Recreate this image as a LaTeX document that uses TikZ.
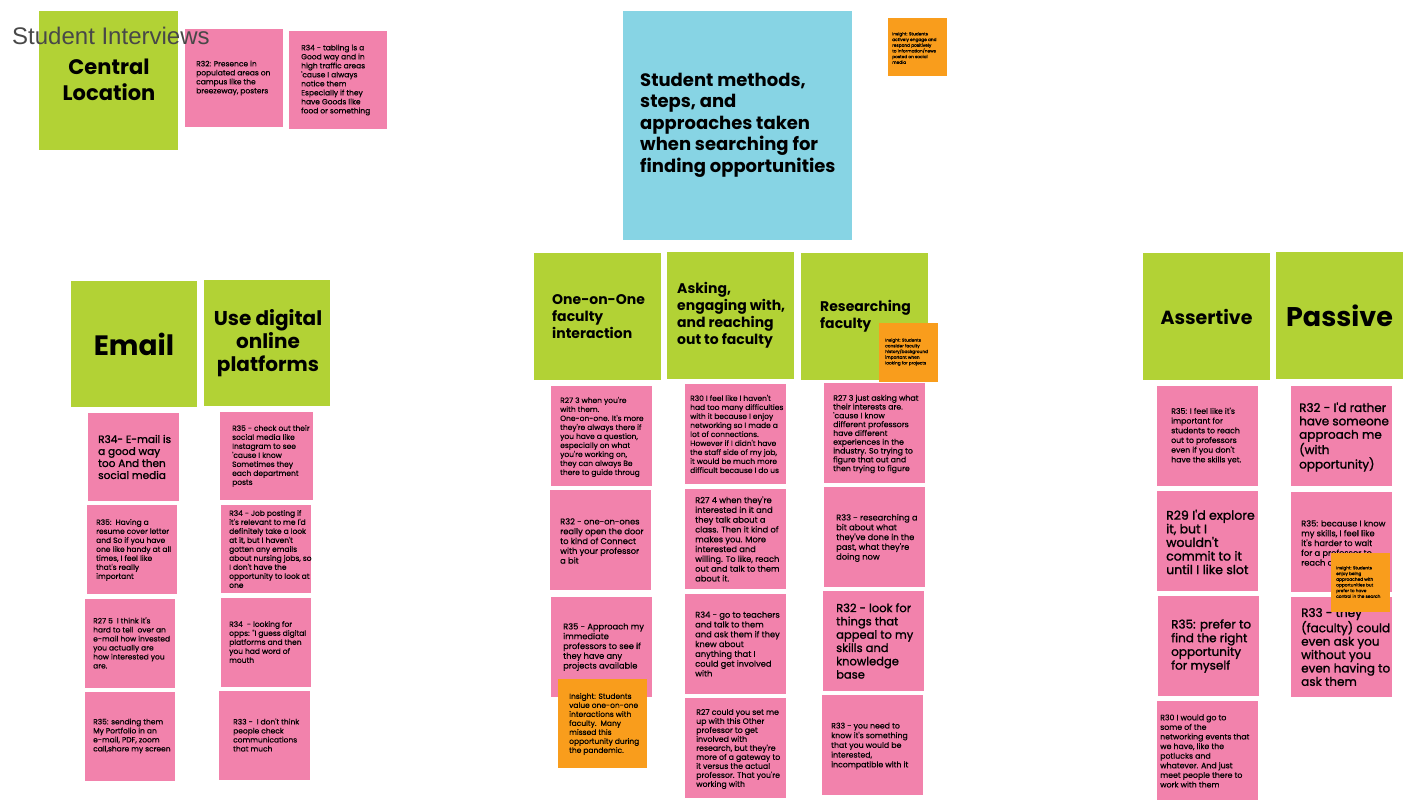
\documentclass[tikz,border=0pt]{standalone}
\usepackage{fontspec}
\setmainfont{Poppins}
\newfontfamily\notefont{Poppins}[FakeBold=0.45]
\newfontfamily\bignotefont{Poppins}[FakeBold=1.4]
\newfontfamily\boardfont{Liberation Sans}
\definecolor{topicgreen}{HTML}{B2D235}
\definecolor{topicblue}{HTML}{87D4E4}
\definecolor{notepink}{HTML}{F282AC}
\definecolor{insightorange}{HTML}{F99D1C}
\definecolor{titlegray}{HTML}{484848}

\begin{document}
\begin{tikzpicture}[
        x=1pt, y=-1pt,
        topic/.style={fill=topicgreen, inner sep=0pt, minimum size=127pt},
        question/.style={fill=topicblue, inner sep=0pt, minimum size=229pt},
        sticky/.style={fill=notepink, inner sep=0pt, minimum width=101pt, minimum height=100pt},
        smallsticky/.style={sticky, minimum width=90pt, minimum height=89pt},
        topsticky/.style={sticky, minimum width=98pt, minimum height=98pt},
        insight/.style={fill=insightorange, inner sep=0pt, minimum size=59pt},
        note/.style={anchor=west, align=left, inner sep=0pt, font=\notefont\fontsize{7.5}{9}\selectfont},
        midnote/.style={note, font=\notefont\fontsize{8.3}{9.8}\selectfont},
        bignote/.style={note, font=\bignotefont\fontsize{12}{13.4}\selectfont},
        fineprint/.style={note, font=\notefont\fontsize{4.3}{5.7}\selectfont},
        heading/.style={align=center, inner sep=0pt, font=\bfseries\fontsize{14}{17}\selectfont}
    ]
        \useasboundingbox (0,0) rectangle (1422,800);
        \fill[white] (0,0) rectangle (1422,800);

        % Central location and its notes
        \node[topic, minimum size=139pt] (central) at (108.5,80.5) {};
        \node[heading, font=\bfseries\fontsize{21}{26}\selectfont] (centralt) at (109,80) {Central\\Location};
        \node[topsticky] (c1) at (234,78) {};
        \node[note] (c1t) at (196,78) {R32: Presence in\\populated areas on\\campus like the\\breezeway, posters};
        \node[topsticky] (c2) at (338,80) {};
        \node[note] (c2t) at (301,80) {R34 - tabling is a\\Good way and in\\high traffic areas\\'cause I always\\notice them\\Especially if they\\have Goods like\\food or something};
        \node[anchor=base west, inner sep=0pt, text=titlegray, font=\boardfont\fontsize{24}{28}\selectfont] (title) at (12,45) {Student Interviews};

        % Main question
        \node[question] (main) at (737.5,125.5) {};
        \node[heading, anchor=west, align=left, font=\bfseries\fontsize{18}{21.5}\selectfont] (maint) at (640,125) {Student methods,\\steps, and\\approaches taken\\when searching for\\finding opportunities};
        \node[insight, minimum height=58pt] (qins) at (917.5,47) {};
        \node[fineprint] (qinst) at (892,48) {Insight: Students\\actively engage and\\respond positively\\to information/news\\posted on social\\media};

        % Email column
        \node[topic, minimum size=126pt] (email) at (134,344) {};
        \node[heading, font=\bfseries\fontsize{28}{30}\selectfont] (emailt) at (134,344) {Email};
        \node[smallsticky, minimum width=91pt, minimum height=88pt] (e1) at (133.5,457) {};
        \node[note, font=\bignotefont\fontsize{10.5}{12}\selectfont] (e1t) at (98,457) {R34- E-mail is\\a good way\\too And then\\social media};
        \node[smallsticky] (e2) at (131.5,549.5) {};
        \node[note] (e2t) at (96,550) {R35:\ \ Having a\\resume cover letter\\and So if you have\\one like handy at all\\times, I feel like\\that's really\\important};
        \node[smallsticky] (e3) at (129.5,643.5) {};
        \node[note] (e3t) at (93,643) {R27 5\ \ I think it's\\hard to tell\ \ over an\\e-mail how invested\\you actually are\\how interested you\\are.};
        \node[smallsticky] (e4) at (129.5,736.5) {};
        \node[note] (e4t) at (93,736) {R35: sending them\\My Portfolio in an\\e-mail, PDF, zoom\\call,share my screen};

        % Digital platforms column
        \node[topic, minimum size=126pt] (digital) at (267,343) {};
        \node[heading, font=\bfseries\fontsize{20}{23}\selectfont] (digitalt) at (268,343) {Use digital\\online\\platforms};
        \node[smallsticky, minimum width=93pt, minimum height=88pt] (d1) at (266.5,456) {};
        \node[note] (d1t) at (232,456) {R35 - check out their\\social media like\\Instagram to see\\'cause I know\\Sometimes they\\each department\\posts};
        \node[smallsticky, minimum height=88pt] (d2) at (265.5,549) {};
        \node[note] (d2t) at (229,549) {R34 - Job posting if\\it's relevant to me I'd\\definitely take a look\\at it, but I haven't\\gotten any emails\\about nursing jobs, so\\I don't have the\\opportunity to look at\\one};
        \node[smallsticky] (d3) at (265.5,642.5) {};
        \node[note] (d3t) at (229,642) {R34\ \ - looking for\\opps: "I guess digital\\platforms and then\\you had word of\\mouth};
        \node[smallsticky, minimum width=91pt] (d4) at (264.5,735.5) {};
        \node[note] (d4t) at (233,735) {R33 -\ \ I don't think\\people check\\communications\\that much};

        % One-on-one column
        \node[topic] (oneone) at (597.5,316.5) {};
        \node[heading, anchor=west, align=left] (oneonet) at (552,317) {One-on-One\\faculty\\interaction};
        \node[sticky] (o1) at (601.5,436) {};
        \node[note] (o1t) at (560,437) {R27 3 when you're\\with them.\\One-on-one. It's more\\they're always there if\\you have a question,\\especially on what\\you're working on,\\they can always Be\\there to guide throug};
        \node[sticky] (o2) at (600.5,540) {};
        \node[midnote] (o2t) at (560,541) {R32 - one-on-ones\\really open the door\\to kind of Connect\\with your professor\\a bit};
        \node[sticky] (o3) at (601,646.5) {};
        \node[midnote] (o3t) at (563,647) {R35 - Approach my\\immediate\\professors to see if\\they have any\\projects available};
        \node[insight, minimum size=89pt] (oins) at (602.5,723.5) {};
        \node[note] (oinst) at (569,724) {Insight: Students\\value one-on-one\\interactions with\\faculty.\ \ Many\\missed this\\opportunity during\\the pandemic.};

        % Asking column
        \node[topic] (asking) at (730.5,315.5) {};
        \node[heading, anchor=west, align=left] (askingt) at (677,315.5) {Asking,\\engaging with,\\and reaching\\out to faculty};
        \node[sticky] (a1) at (735.5,434) {};
        \node[note] (a1t) at (690,434) {R30 I feel like I haven't\\had too many difficulties\\with it because I enjoy\\networking so I made a\\lot of connections.\\However if I didn't have\\the staff side of my job,\\it would be much more\\difficult because I do us};
        \node[sticky] (a2) at (735.5,539) {};
        \node[midnote] (a2t) at (695,539) {R27 4 when they're\\interested in it and\\they talk about a\\class. Then it kind of\\makes you. More\\interested and\\willing. To like, reach\\out and talk to them\\about it.};
        \node[sticky] (a3) at (735.5,644) {};
        \node[midnote] (a3t) at (695,644) {R34 - go to teachers\\and talk to them\\and ask them if they\\knew about\\anything that I\\could get involved\\with};
        \node[sticky] (a4) at (735.5,748) {};
        \node[note, font=\notefont\fontsize{7.8}{9}\selectfont] (a4t) at (696,749) {R27 could you set me\\up with this Other\\professor to get\\involved with\\research, but they're\\more of a gateway to\\it versus the actual\\professor. That you're\\working with};

        % Researching column
        \node[topic] (research) at (864.5,316.5) {};
        \node[heading, anchor=west, align=left] (researcht) at (820,316.5) {Researching\\faculty};
        \node[insight] (rins) at (908.5,352.5) {};
        \node[fineprint] (rinst) at (885,352) {Insight: Students\\consider faculty\\history/background\\important when\\looking for projects};
        \node[sticky] (r1) at (874.5,433) {};
        \node[note, font=\notefont\fontsize{7.8}{8.8}\selectfont] (r1t) at (833,434) {R27 3 just asking what\\their interests are.\\'cause I know\\different professors\\have different\\experiences in the\\industry. So trying to\\figure that out and\\then trying to figure};
        \node[sticky] (r2) at (874.5,537) {};
        \node[midnote] (r2t) at (836,538) {R33 - researching a\\bit about what\\they've done in the\\past, what they're\\doing now};
        \node[sticky] (r3) at (873.5,641) {};
        \node[bignote, font=\bignotefont\fontsize{11.5}{13.3}\selectfont] (r3t) at (836,641) {R32 - look for\\things that\\appeal to my\\skills and\\knowledge\\base};
        \node[sticky] (r4) at (872.5,745) {};
        \node[note, font=\notefont\fontsize{7.8}{9.7}\selectfont] (r4t) at (831,746) {R33 - you need to\\know it's something\\that you would be\\interested,\\incompatible with it};

        % Assertive column
        \node[topic] (assertive) at (1206.5,316.5) {};
        \node[heading, font=\bfseries\fontsize{19}{22}\selectfont] (assertivet) at (1206.5,316.5) {Assertive};
        \node[sticky] (s1) at (1207.5,436) {};
        \node[note, font=\notefont\fontsize{7.8}{9.7}\selectfont] (s1t) at (1171,436) {R35: I feel like it's\\important for\\students to reach\\out to professors\\even if you don't\\have the skills yet.};
        \node[sticky] (s2) at (1207.5,541) {};
        \node[bignote, font=\bignotefont\fontsize{12.5}{13.6}\selectfont] (s2t) at (1166,542) {R29 I'd explore\\it, but I\\wouldn't\\commit to it\\until I like slot};
        \node[sticky] (s3) at (1208.5,646) {};
        \node[bignote, font=\bignotefont\fontsize{12}{13.7}\selectfont] (s3t) at (1171,646) {R35: prefer to\\find the right\\opportunity\\for myself};
        \node[sticky, minimum height=99pt] (s4) at (1207.5,750.5) {};
        \node[note, font=\notefont\fontsize{7.8}{9.6}\selectfont] (s4t) at (1160,751) {R30 I would go to\\some of the\\networking events that\\we have, like the\\potlucks and\\whatever. And just\\meet people there to\\work with them};

        % Passive column
        \node[topic] (passive) at (1339.5,315.5) {};
        \node[heading, font=\bfseries\fontsize{27}{30}\selectfont] (passivet) at (1339.5,315.5) {Passive};
        \node[sticky] (p1) at (1341.5,436) {};
        \node[bignote] (p1t) at (1299,437) {R32 - I'd rather\\have someone\\approach me\\(with\\opportunity)};
        \node[sticky] (p2) at (1341.5,542) {};
        \node[midnote] (p2t) at (1301,543) {R35: because I know\\my skills, I feel like\\it's harder to wait\\for a professor to\\reach out};
        \node[sticky] (p3) at (1341.5,647) {};
        \node[bignote] (p3t) at (1301,647) {R33 - they\\(faculty) could\\even ask you\\without you\\even having to\\ask them};
        \node[insight] (pins) at (1360.5,582.5) {};
        \node[fineprint] (pinst) at (1336,582) {Insight: Students\\enjoy being\\approached with\\opportunities but\\prefer to have\\control in the search};

    \end{tikzpicture}
\end{document}
